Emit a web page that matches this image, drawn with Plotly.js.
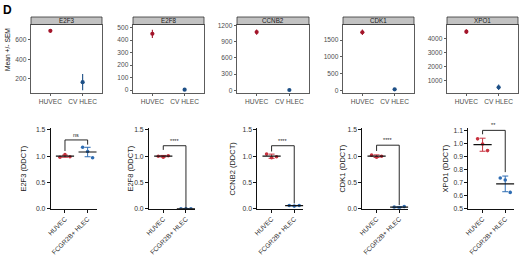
<!DOCTYPE html>
<html><head><meta charset="utf-8">
<script src="https://cdn.plot.ly/plotly-3.0.1.min.js"></script>
<style>html,body{margin:0;padding:0;background:#fff}</style>
</head><body><div id="chart" style="width:520px;height:255px"></div>
<script>
// ---------- data ----------
const genes = ['E2F3', 'E2F8', 'CCNB2', 'CDK1', 'XPO1'];
const topGroups = ['HUVEC', 'CV HLEC'];
const topMeans = [[688, 168], [450, 3], [1078, 6], [1730, 40], [4470, 500]];
const topSem = [[18, 82], [33, 4], [50, 6], [80, 12], [170, 200]];
const topRanges = [[58, 752], [-24, 524], [-50, 1219], [-68, 1959], [93, 4986]];
const topDticks = [200, 100, 300, 500, 1000];

const botGroups = ['HUVEC', 'FCGR2B+ HLEC'];
const botTitles = ['E2F3 (DDCT)', 'E2F8 (DDCT)', 'CCNB2 (DDCT)', 'CDK1 (DDCT)', 'XPO1 (DDCT)'];
const botHuvecPts = [[0.98, 1.03, 0.99], [1.00, 0.98, 1.01], [1.04, 0.97, 0.99], [1.02, 0.98, 1.00], [1.035, 0.995, 0.945]];
const botHlecPts = [[1.17, 1.09, 0.97], [0.0, 0.0, 0.0], [0.06, 0.05, 0.06], [0.03, 0.02, 0.04], [0.735, 0.72, 0.625]];
const botMeans = [[1.0, 1.08], [1.0, 0.0], [1.0, 0.057], [1.0, 0.03], [0.99, 0.69]];
const botSd = [[0.02, 0.09], [0.015, 0.003], [0.04, 0.005], [0.025, 0.01], [0.05, 0.06]];
const botRanges = [[0, 1.53], [0, 1.53], [0, 1.53], [0, 1.53], [0.5, 1.115]];
const botDticks = [0.5, 0.5, 0.5, 0.5, 0.1];
const sigLabels = ['ns', '****', '****', '****', '**'];
const sigTop = [1.31, 1.2, 1.2, 1.21, 1.1];
const sigLeft = [1.1, 1.12, 1.09, 1.1, 1.07];
const sigRight = [1.22, 0.01, 0.1, 0.07, 0.78];

// ---------- layout constants (pixels) ----------
const W = 520, H = 255;
const topX = [[31, 102], [133, 204], [237, 309], [343, 414], [447, 518]];
const topY = [24.5, 93];
const stripH = 7.5;
const botAxisX = [50.7, 149, 257.3, 362.3, 468.3];
const botW = 46;
const botY = [128.4, 208.7];
const botTitleX = [24, 131, 233, 343, 446];
const jitter = [-0.22, 0, 0.22];
const red = '#a3152a', blue = '#1d4f86';
const redB = '#c8323f', blueB = '#2f6db3';
const FONT = 'Liberation Sans, Arial, sans-serif';
const NARROW = 'Liberation Sans Narrow, Liberation Sans, Arial, sans-serif';

const fx = p => p / W;
const fy = p => 1 - p / H;

const traces = [];
const layout = {
  width: W, height: H, margin: {l: 0, r: 0, t: 0, b: 0},
  paper_bgcolor: '#fff', plot_bgcolor: '#fff',
  showlegend: false, font: {family: FONT, size: 6.5, color: '#333'},
  shapes: [], annotations: []
};

for (let i = 0; i < 5; i++) {
  // top row
  const n = i + 1;
  const xa = 'xaxis' + (n === 1 ? '' : n), ya = 'yaxis' + (n === 1 ? '' : n);
  const xr = 'x' + (n === 1 ? '' : n), yr = 'y' + (n === 1 ? '' : n);
  layout[xa] = {
    domain: [fx(topX[i][0]), fx(topX[i][1])], anchor: yr,
    range: [-0.6, 1.6], tickvals: [0, 1], ticktext: topGroups,
    showline: true, mirror: true, linecolor: '#333', linewidth: 0.8,
    ticks: 'outside', ticklen: 2.5, tickcolor: '#333', tickwidth: 0.8,
    tickfont: {size: 6.6, color: '#4d4d4d'}, showgrid: false, zeroline: false, fixedrange: true
  };
  layout[ya] = {
    domain: [fy(topY[1]), fy(topY[0])], anchor: xr,
    range: topRanges[i], dtick: topDticks[i], tick0: 0,
    showline: true, mirror: true, linecolor: '#333', linewidth: 0.8,
    ticks: 'outside', ticklen: 2.5, tickcolor: '#333', tickwidth: 0.8,
    tickfont: {size: 6.6, color: '#4d4d4d'}, showgrid: false, zeroline: false, fixedrange: true
  };
  [red, blue].forEach((c, g) => {
    traces.push({
      type: 'scatter', mode: 'markers', xaxis: xr, yaxis: yr,
      x: [g], y: [topMeans[i][g]],
      error_y: {type: 'data', array: [topSem[i][g]], color: c, thickness: 1.1, width: 0},
      marker: {color: c, size: 4.2}, hoverinfo: 'skip'
    });
  });
  const ph = topY[1] - topY[0];
  layout.shapes.push({
    type: 'rect', xref: xr + ' domain', yref: yr + ' domain',
    x0: 0, x1: 1, y0: 1, y1: 1 + stripH / ph,
    fillcolor: '#c2c2c2', line: {color: '#333', width: 0.8}
  });
  layout.annotations.push({
    xref: xr + ' domain', yref: yr + ' domain', x: 0.5, y: 1 + stripH / 2 / ph,
    text: genes[i], showarrow: false, font: {size: 6.3, color: '#1a1a1a'},
    xanchor: 'center', yanchor: 'middle'
  });

  // bottom row
  const m = i + 6;
  const bxa = 'xaxis' + m, bya = 'yaxis' + m, bxr = 'x' + m, byr = 'y' + m;
  layout[bxa] = {
    domain: [fx(botAxisX[i]), fx(botAxisX[i] + botW)], anchor: byr,
    range: [-0.63, 1.4], tickvals: [0, 1], ticktext: botGroups, tickangle: -45,
    showline: true, linecolor: '#111', linewidth: 1,
    ticks: 'outside', ticklen: 3, tickcolor: '#111', tickwidth: 1,
    tickfont: {size: 6.6, color: '#333'}, showgrid: false, zeroline: false, fixedrange: true
  };
  layout[bya] = {
    domain: [fy(botY[1]), fy(botY[0])], anchor: bxr,
    range: botRanges[i], dtick: botDticks[i], tick0: 0, tickformat: '.1f',
    showline: true, linecolor: '#111', linewidth: 1,
    ticks: 'outside', ticklen: 3, tickcolor: '#111', tickwidth: 1,
    tickfont: {size: 6.8, color: '#333'}, showgrid: false, zeroline: false, fixedrange: true
  };
  [[botHuvecPts[i], redB], [botHlecPts[i], blueB]].forEach(([pts, c], g) => {
    traces.push({
      type: 'scatter', mode: 'markers', xaxis: bxr, yaxis: byr,
      x: pts.map((v, k) => g + jitter[k]), y: pts,
      marker: {color: c, size: 3.6}, hoverinfo: 'skip'
    });
    traces.push({
      type: 'scatter', mode: 'markers', xaxis: bxr, yaxis: byr,
      x: [g], y: [botMeans[i][g]],
      error_y: {type: 'data', array: [botSd[i][g]], color: c, thickness: 1, width: 3},
      marker: {color: 'rgba(0,0,0,0)', size: 1}, hoverinfo: 'skip'
    });
  });
  traces.push({
    type: 'scatter', mode: 'markers', xaxis: bxr, yaxis: byr,
    x: [0, 1], y: botMeans[i],
    marker: {symbol: 'line-ew', size: 13, color: '#111', line: {color: '#111', width: 1.2}},
    hoverinfo: 'skip'
  });
  // significance bracket
  traces.push({
    type: 'scatter', mode: 'lines', xaxis: bxr, yaxis: byr,
    x: [0, 0, 1, 1], y: [sigLeft[i], sigTop[i], sigTop[i], sigRight[i]],
    line: {color: '#111', width: 0.9}, hoverinfo: 'skip', cliponaxis: false
  });
  layout.annotations.push({
    xref: bxr, yref: byr, x: 0.5, y: sigTop[i], yanchor: 'bottom', yshift: 0,
    text: sigLabels[i], showarrow: false, font: {size: 5.5, color: '#222'}
  });
  layout.annotations.push({
    xref: 'paper', yref: 'paper', x: fx(botTitleX[i]), y: fy((botY[0] + botY[1]) / 2),
    text: botTitles[i], textangle: -90, showarrow: false,
    font: {family: NARROW, size: 7.5, color: '#222'}, xanchor: 'center', yanchor: 'middle'
  });
}

layout.annotations.push({
  xref: 'paper', yref: 'paper', x: fx(8), y: fy(50), text: 'Mean +/- SEM', textangle: -90,
  showarrow: false, font: {size: 6.7, color: '#111'}, xanchor: 'center', yanchor: 'middle'
});
layout.annotations.push({
  xref: 'paper', yref: 'paper', x: fx(1), y: fy(1), text: '<b>D</b>',
  showarrow: false, font: {size: 12, color: '#000'}, xanchor: 'left', yanchor: 'top'
});

Plotly.newPlot('chart', traces, layout, {staticPlot: true, displayModeBar: false});
</script></body></html>
